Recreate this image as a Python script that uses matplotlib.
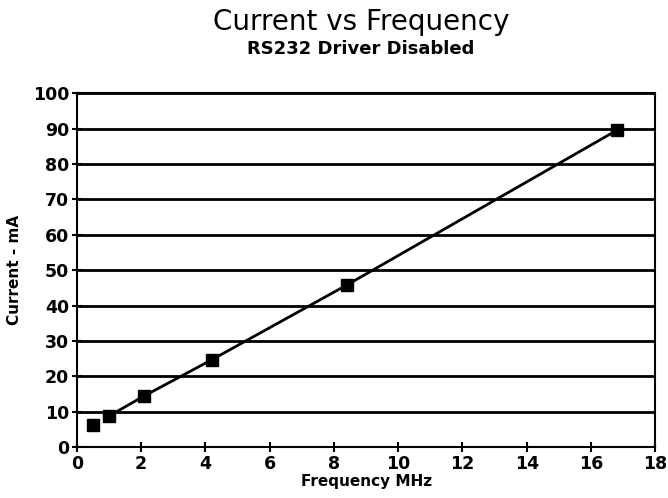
import matplotlib
matplotlib.use("Agg")
import matplotlib.pyplot as plt

# values
freq_mhz = [0.5, 1.0, 2.1, 4.2, 8.4, 16.8]
current_ma = [6.3, 8.8, 14.5, 24.7, 45.8, 89.5]

x_ticks = [0, 2, 4, 6, 8, 10, 12, 14, 16, 18]
y_ticks = [0, 10, 20, 30, 40, 50, 60, 70, 80, 90, 100]

fig = plt.figure(figsize=(6.68, 4.98), dpi=100)
ax = fig.add_axes([0.115, 0.102, 0.866, 0.711])

# gridlines drawn first so the data sits on top
for y in y_ticks:
    ax.axhline(y, color="black", lw=2.0, zorder=1)

ax.plot(freq_mhz[1:], current_ma[1:], color="black", lw=2, zorder=2)
ax.plot(freq_mhz, current_ma, ls="none", marker="s", ms=8,
        color="black", zorder=3)

ax.set_xlim(0, 18)
ax.set_ylim(0, 100)
ax.set_xticks(x_ticks)
ax.set_yticks(y_ticks)
ax.tick_params(direction="inout", length=7, width=1.5, labelsize=12.5,
               pad=2)
for lbl in ax.get_xticklabels() + ax.get_yticklabels():
    lbl.set_fontweight("bold")
for s in ax.spines.values():
    s.set_linewidth(1.5)

ax.set_xlabel("Frequency MHz", fontsize=11, fontweight="bold", labelpad=1)
ax.set_ylabel("Current - mA", fontsize=11, fontweight="bold", labelpad=8)

fig.text(0.54, 0.955, "Current vs Frequency", ha="center", va="center",
         fontsize=20)
fig.text(0.54, 0.902, "RS232 Driver Disabled", ha="center", va="center",
         fontsize=13, fontweight="bold")

fig.savefig("out.png", dpi=100)
